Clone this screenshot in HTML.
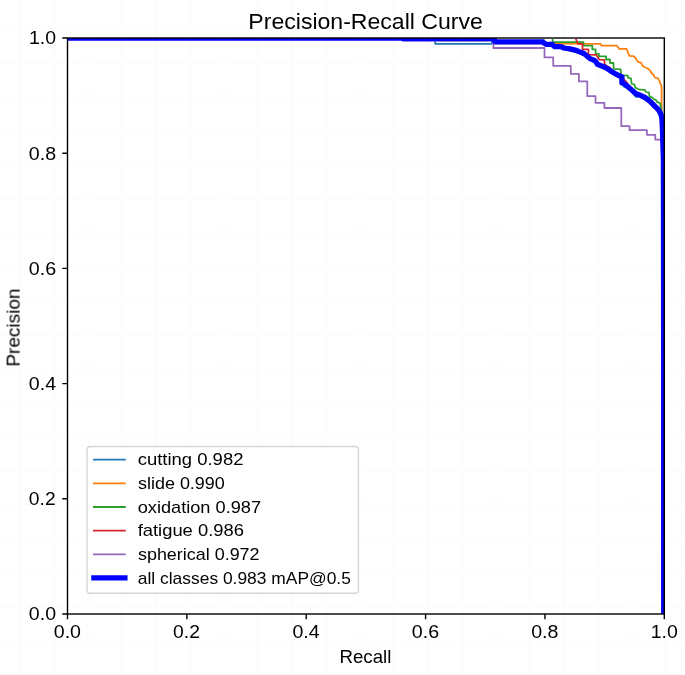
<!DOCTYPE html>
<html><head><meta charset="utf-8"><title>Precision-Recall Curve</title>
<style>html,body{margin:0;padding:0;background:#fff;width:685px;height:675px;overflow:hidden}svg{display:block}</style>
</head><body>
<svg width="685" height="675" viewBox="0 0 685 675">
<defs><filter id="gs" x="0" y="0" width="685" height="675" filterUnits="userSpaceOnUse"><feOffset dx="0" dy="0"/></filter><clipPath id="ax"><rect x="67.5" y="38.9" width="596.8" height="575.1"/></clipPath><clipPath id="ax2"><rect x="67.5" y="38.0" width="596.8" height="576.0"/></clipPath></defs>
<rect width="685" height="675" fill="#ffffff"/>
<path d="M20,0V675 M0,28.5H685 M54,0V675 M0,62.5H685 M88,0V675 M0,96.5H685 M122,0V675 M0,130.5H685 M156,0V675 M0,164.5H685 M190,0V675 M0,198.5H685 M224,0V675 M0,232.5H685 M258,0V675 M0,266.5H685 M292,0V675 M0,300.5H685 M326,0V675 M0,334.5H685 M360,0V675 M0,368.5H685 M394,0V675 M0,402.5H685 M428,0V675 M0,436.5H685 M462,0V675 M0,470.5H685 M496,0V675 M0,504.5H685 M530,0V675 M0,538.5H685 M564,0V675 M0,572.5H685 M598,0V675 M0,606.5H685 M632,0V675 M0,640.5H685 M666,0V675 M0,674.5H685" stroke="#000" stroke-opacity="0.012" stroke-width="2" fill="none"/>
<g clip-path="url(#ax)" fill="none" stroke-linejoin="round" stroke-linecap="square">
<polyline points="67.5,38.0 435.2,38.0 435.2,43.8 491.9,43.8 491.9,38.0 543.0,38.0 546.0,45.8 552.0,45.8 556.0,48.1 561.0,48.1 566.0,49.8 572.0,50.9 578.0,52.7 584.0,55.2 590.0,60.1 596.0,63.3 602.0,67.7 608.0,70.5 614.0,74.5 619.0,77.1 621.8,78.5 623.5,86.4 625.2,87.3 627.0,87.4 632.0,91.8 635.0,96.0 636.8,97.2 639.0,96.3 645.0,99.1 650.0,102.9 652.8,106.6 654.2,108.1 656.0,108.8 659.0,112.3 661.3,116.0 662.3,125.0 662.8,140.0 663.4,160.0 663.6,300.0 663.7,614.0" stroke="#1f77b4" stroke-width="1.76"/>
<polyline points="67.5,38.0 495.0,38.0 495.0,43.4 552.0,43.4 554.0,43.6 600.7,43.8 601.5,45.7 617.0,45.7 619.3,48.9 626.6,48.9 629.3,55.9 633.5,56.1 635.5,58.0 636.5,59.8 638.3,62.2 641.0,62.6 642.5,65.7 644.9,67.2 648.3,68.8 650.3,70.7 651.4,73.0 653.7,75.0 654.9,77.6 657.6,78.0 659.1,80.3 660.3,83.0 661.3,86.0 661.6,88.0 661.6,107.0 661.8,118.0 662.4,140.0 663.5,200.0 663.7,614.0" stroke="#ff7f0e" stroke-width="1.76"/>
<polyline points="67.5,38.0 552.6,38.0 552.6,42.2 583.5,42.2 583.5,45.7 592.3,45.7 592.3,49.4 595.6,49.4 595.6,53.9 598.9,53.9 598.9,56.3 606.1,56.3 606.1,59.5 610.0,59.5 610.0,63.0 613.5,63.0 613.6,68.9 620.7,69.3 621.1,75.1 627.8,75.6 628.2,77.9 630.9,78.3 631.7,84.0 634.4,84.4 635.3,87.6 638.2,89.0 640.0,89.7 644.9,89.8 645.8,92.0 648.9,92.4 649.5,96.6 652.0,97.3 653.8,99.1 656.0,100.0 657.3,102.2 660.0,103.1 660.6,105.8 661.5,110.0 662.3,125.0 662.8,140.0 663.4,160.0 663.6,300.0 663.7,614.0" stroke="#2ca02c" stroke-width="1.76"/>
<polyline points="67.5,38.0 575.5,38.0 577.8,43.8 582.5,43.8 582.5,49.4 588.4,49.4 588.4,54.7 596.0,54.8 599.5,59.7 604.5,59.8 604.5,64.0 607.0,66.2 609.6,67.3 612.0,70.6 615.0,72.4 619.0,74.4 621.6,75.7 623.6,79.2 626.0,81.4 630.0,87.8 636.0,92.9 641.0,94.8 645.0,96.8 650.0,100.6 655.0,105.5 659.0,110.0 661.0,113.7 661.8,118.0 662.3,125.0 662.8,140.0 663.4,160.0 663.6,300.0 663.7,614.0" stroke="#d62728" stroke-width="1.76"/>
<polyline points="67.5,38.0 402.0,38.0 402.5,40.5 493.4,40.5 493.4,48.0 544.5,48.0 544.5,57.4 553.2,57.4 553.2,65.8 570.8,65.8 570.8,73.8 578.9,73.8 578.9,81.4 587.3,81.4 587.3,96.2 595.5,96.2 595.5,102.8 604.4,102.8 604.4,108.0 621.3,108.0 621.3,126.2 629.5,126.2 629.5,130.2 646.9,130.2 646.9,134.8 655.3,134.8 655.3,139.6 661.0,139.6 662.6,150.0 663.5,200.0 663.7,614.0" stroke="#9467bd" stroke-width="1.76"/>
</g>
<g clip-path="url(#ax2)" fill="none" stroke-linejoin="round" stroke-linecap="square">
<polyline points="67.5,38.0 402.0,38.0 402.5,38.5 494.0,38.5 495.0,41.8 542.0,41.8 546.0,44.3 552.0,44.3 554.5,46.6 561.0,46.6 564.0,48.0 570.0,48.9 576.0,50.3 579.0,51.6 582.0,52.8 584.3,53.8 586.4,55.5 588.4,57.2 590.0,58.6 593.3,59.9 595.5,61.0 597.5,64.3 601.8,66.1 604.8,67.2 608.0,69.0 611.0,71.2 615.0,73.6 619.0,75.6 621.9,77.0 621.9,83.0 624.5,83.7 630.0,88.6 636.0,93.7 640.4,95.3 644.9,97.5 648.4,100.0 651.6,102.8 655.1,106.4 657.8,109.0 659.5,111.5 661.0,114.5 661.8,118.0 662.3,125.0 662.8,140.0 663.4,160.0 663.6,300.0 663.7,614.0" stroke="#0000ff" stroke-width="5.3"/>
</g>
<rect x="67.5" y="38.0" width="596.8" height="576.0" fill="none" stroke="#000" stroke-width="1.4"/>
<path d="M67.50,614.0 v5.2 M67.5,614.00 h-5.2 M186.86,614.0 v5.2 M67.5,498.80 h-5.2 M306.22,614.0 v5.2 M67.5,383.60 h-5.2 M425.58,614.0 v5.2 M67.5,268.40 h-5.2 M544.94,614.0 v5.2 M67.5,153.20 h-5.2 M664.30,614.0 v5.2 M67.5,38.00 h-5.2" stroke="#000" stroke-width="1.4" fill="none"/>
<g font-family="'Liberation Sans', sans-serif" fill="#000" filter="url(#gs)">
<text x="248.36" y="28.70" font-size="22.37" textLength="234.50" lengthAdjust="spacingAndGlyphs">Precision-Recall Curve</text>
<text x="53.77" y="637.80" font-size="18.57" textLength="27.22" lengthAdjust="spacingAndGlyphs">0.0</text>
<text x="28.87" y="620.40" font-size="18.57" textLength="27.22" lengthAdjust="spacingAndGlyphs">0.0</text>
<text x="173.14" y="637.80" font-size="18.57" textLength="26.82" lengthAdjust="spacingAndGlyphs">0.2</text>
<text x="28.88" y="505.20" font-size="18.57" textLength="26.82" lengthAdjust="spacingAndGlyphs">0.2</text>
<text x="292.49" y="637.80" font-size="18.57" textLength="27.20" lengthAdjust="spacingAndGlyphs">0.4</text>
<text x="28.87" y="390.00" font-size="18.57" textLength="27.20" lengthAdjust="spacingAndGlyphs">0.4</text>
<text x="411.84" y="637.80" font-size="18.57" textLength="27.37" lengthAdjust="spacingAndGlyphs">0.6</text>
<text x="28.87" y="274.80" font-size="18.57" textLength="27.37" lengthAdjust="spacingAndGlyphs">0.6</text>
<text x="531.20" y="637.80" font-size="18.57" textLength="27.27" lengthAdjust="spacingAndGlyphs">0.8</text>
<text x="28.87" y="159.60" font-size="18.57" textLength="27.27" lengthAdjust="spacingAndGlyphs">0.8</text>
<text x="650.68" y="637.80" font-size="18.57" textLength="27.10" lengthAdjust="spacingAndGlyphs">1.0</text>
<text x="28.98" y="44.40" font-size="18.57" textLength="27.10" lengthAdjust="spacingAndGlyphs">1.0</text>
<text x="339.42" y="662.50" font-size="18.57" textLength="51.93" lengthAdjust="spacingAndGlyphs">Recall</text>
<g transform="translate(19.6,327.6) rotate(-90)"><text x="-39.12" y="0.00" font-size="18.57" textLength="78.14" lengthAdjust="spacingAndGlyphs">Precision</text></g>
</g>
<rect x="87.0" y="446.5" width="271.3" height="146.7" rx="3.2" ry="3.2" fill="#fff" fill-opacity="0.8" stroke="#d6d6d6" stroke-width="1.4"/>
<line x1="93.9" y1="459.7" x2="124.9" y2="459.7" stroke="#1f77b4" stroke-width="1.76" stroke-linecap="square"/>
<line x1="93.9" y1="483.3" x2="124.9" y2="483.3" stroke="#ff7f0e" stroke-width="1.76" stroke-linecap="square"/>
<line x1="93.9" y1="507.0" x2="124.9" y2="507.0" stroke="#2ca02c" stroke-width="1.76" stroke-linecap="square"/>
<line x1="93.9" y1="530.6" x2="124.9" y2="530.6" stroke="#d62728" stroke-width="1.76" stroke-linecap="square"/>
<line x1="93.9" y1="554.3" x2="124.9" y2="554.3" stroke="#9467bd" stroke-width="1.76" stroke-linecap="square"/>
<line x1="93.9" y1="577.9" x2="124.9" y2="577.9" stroke="#0000ff" stroke-width="5.3" stroke-linecap="square"/>
<g font-family="'Liberation Sans', sans-serif" fill="#000" filter="url(#gs)">
<text x="137.69" y="465.40" font-size="16.77" textLength="105.73" lengthAdjust="spacingAndGlyphs">cutting 0.982</text>
<text x="137.98" y="489.04" font-size="16.77" textLength="86.87" lengthAdjust="spacingAndGlyphs">slide 0.990</text>
<text x="137.70" y="512.68" font-size="16.77" textLength="123.37" lengthAdjust="spacingAndGlyphs">oxidation 0.987</text>
<text x="137.68" y="536.32" font-size="16.77" textLength="106.20" lengthAdjust="spacingAndGlyphs">fatigue 0.986</text>
<text x="137.98" y="559.96" font-size="16.77" textLength="121.59" lengthAdjust="spacingAndGlyphs">spherical 0.972</text>
<text x="137.81" y="583.60" font-size="16.77" textLength="213.08" lengthAdjust="spacingAndGlyphs">all classes 0.983 mAP@0.5</text>
</g>
</svg>
</body></html>
